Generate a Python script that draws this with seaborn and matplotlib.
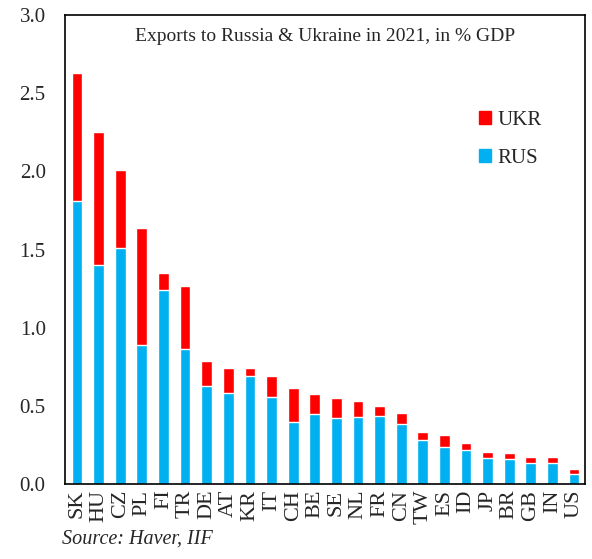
import matplotlib
matplotlib.use("Agg")
import matplotlib.pyplot as plt
import pandas as pd
import seaborn as sns
from matplotlib.patches import Patch

sns.set_style("white")
plt.rcParams["font.family"] = ["Liberation Serif", "DejaVu Serif"]

# Exports to Russia & Ukraine, 2021, % of GDP
countries = ["SK", "HU", "CZ", "PL", "FI", "TR", "DE", "AT", "KR", "IT", "CH", "BE",
             "SE", "NL", "FR", "CN", "TW", "ES", "ID", "JP", "BR", "GB", "IN", "US"]
rus = [1.81, 1.40, 1.51, 0.89, 1.24, 0.865, 0.63, 0.58, 0.69, 0.56, 0.395, 0.447,
       0.423, 0.43, 0.434, 0.385, 0.284, 0.237, 0.218, 0.169, 0.16, 0.133, 0.133, 0.066]
total = [2.63, 2.25, 2.01, 1.64, 1.35, 1.265, 0.79, 0.74, 0.74, 0.69, 0.617, 0.575,
         0.553, 0.532, 0.50, 0.457, 0.333, 0.312, 0.265, 0.203, 0.197, 0.175, 0.173, 0.094]

df = pd.DataFrame({"country": countries, "RUS": rus, "total": total})
red, blue = "#FF0000", "#00B0F0"

fig = plt.figure(figsize=(5.92, 5.59), dpi=100)
ax = fig.add_axes([0.11, 0.134, 0.878, 0.839])

# stacked: total (red) underneath, RUS (blue) on top of it
sns.barplot(data=df, x="country", y="total", color=red, width=0.5,
            saturation=1, ax=ax)
sns.barplot(data=df, x="country", y="RUS", color=blue, width=0.5,
            saturation=1, ax=ax)

ax.set_ylim(0, 3.0)
ax.set_xlim(-0.55, 23.5)
ax.set_yticks([0, 0.5, 1.0, 1.5, 2.0, 2.5, 3.0])
ax.set_yticklabels(["0.0", "0.5", "1.0", "1.5", "2.0", "2.5", "3.0"], fontsize=15)
ax.tick_params(axis="x", labelsize=16, rotation=90, length=0, pad=4)
ax.tick_params(axis="y", length=0, pad=14)
ax.set_xlabel("")
ax.set_ylabel("")
for s in ax.spines.values():
    s.set_color("black")
    s.set_linewidth(1.2)

ax.text(0.5, 0.955, "Exports to Russia & Ukraine in 2021, in % GDP",
        transform=ax.transAxes, ha="center", va="center", fontsize=14)

handles = [Patch(color=red, label="UKR"), Patch(color=blue, label="RUS")]
ax.legend(handles=handles, loc="upper left", bbox_to_anchor=(0.76, 0.835),
          frameon=False, fontsize=15, handlelength=0.6, handleheight=0.6,
          handletextpad=0.3, labelspacing=0.9)

fig.text(0.105, 0.018, "Source: Haver, IIF", fontsize=14.5, style="italic",
         ha="left", va="bottom")

fig.savefig("out.png", dpi=100)
